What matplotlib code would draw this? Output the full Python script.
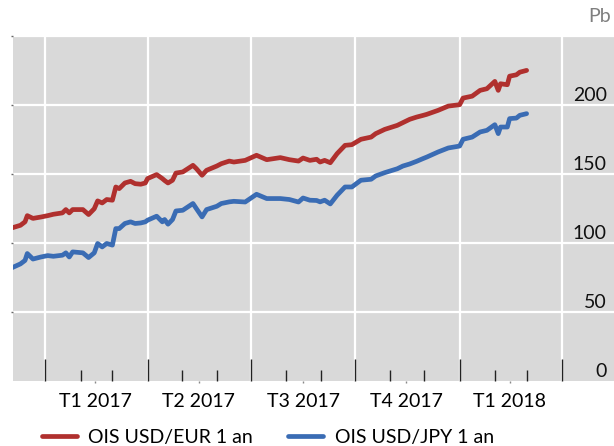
import matplotlib
matplotlib.use("Agg")
import matplotlib.pyplot as plt
import matplotlib.transforms as mtransforms
import pandas as pd

dates = [
    "2016-12-02", "2016-12-10", "2016-12-14", "2016-12-16", "2016-12-21", "2016-12-28",
    "2017-01-03", "2017-01-08", "2017-01-16", "2017-01-19", "2017-01-22", "2017-01-25",
    "2017-02-03", "2017-02-08", "2017-02-13", "2017-02-16", "2017-02-20", "2017-02-24",
    "2017-03-01", "2017-03-04", "2017-03-07", "2017-03-12", "2017-03-17", "2017-03-21",
    "2017-03-26", "2017-03-30", "2017-04-01", "2017-04-09", "2017-04-14", "2017-04-16",
    "2017-04-19", "2017-04-23", "2017-04-26", "2017-05-02", "2017-05-11", "2017-05-14",
    "2017-05-19", "2017-05-23", "2017-06-01", "2017-06-05", "2017-06-12", "2017-06-16",
    "2017-06-26", "2017-07-06", "2017-07-15", "2017-07-27", "2017-08-04", "2017-08-12",
    "2017-08-16", "2017-08-22", "2017-08-28", "2017-08-31", "2017-09-04", "2017-09-09",
    "2017-09-15", "2017-09-22", "2017-09-28", "2017-10-06", "2017-10-15", "2017-10-19",
    "2017-10-27", "2017-11-07", "2017-11-12", "2017-11-18", "2017-11-24", "2017-11-30",
    "2017-12-03", "2017-12-13", "2017-12-22", "2018-01-01", "2018-01-04", "2018-01-12",
    "2018-01-19", "2018-01-25", "2018-02-01", "2018-02-04", "2018-02-06", "2018-02-12",
    "2018-02-14", "2018-02-20", "2018-02-23", "2018-03-01",
]

ois_usd_eur = [
    111, 113, 115.5, 120, 118, 119,
    120, 121, 122, 124.4, 122, 124.4,
    124.4, 120.8, 125, 130.7, 129.2, 131.7,
    131.2, 140.8, 139.6, 143.7, 144.9, 143.2,
    142.8, 143.7, 146.9, 149.8, 146.9, 145.5,
    143.7, 145.7, 150.9, 151.7, 156.5, 154.1,
    149.3, 152.9, 156, 157.7, 159.6, 158.9,
    160.1, 163.8, 160.6, 162.1, 160.6, 159.6,
    161.8, 160.1, 160.9, 158.9, 160.1, 158.4,
    165, 171, 171.5, 175.4, 177, 179.5,
    182.6, 185.5, 187.5, 189.9, 191.5, 192.8,
    193.5, 196.4, 199.5, 200.5, 205.3, 206.7,
    210.9, 212.1, 217.4, 210.9, 215.7, 215,
    221.2, 222.2, 224.1, 225.4,
]

ois_usd_jpy = [
    82, 85, 87.5, 92.5, 88.5, 90,
    91, 90.5, 91.3, 93, 90, 93.7,
    93, 89.6, 93, 99.8, 97.3, 99.8,
    98.6, 110.6, 110.6, 114.3, 115.5, 114.3,
    114.7, 115.5, 116.7, 119.6, 115.5, 117.2,
    113.8, 117.2, 123.4, 123.9, 128.8, 125.1,
    119.1, 124.4, 126.8, 128.8, 130, 130.4,
    129.9, 135.5, 132.4, 132.4, 131.7, 129.9,
    132.8, 131.2, 131, 130, 131.2, 128.5,
    134.8, 140.8, 140.8, 145.7, 146.4, 148.8,
    151.2, 154, 156, 157.5, 159.4, 161.5,
    162.5, 166.2, 169.1, 170.5, 175.4, 177,
    180.7, 181.9, 186, 179.5, 184.3, 184.3,
    190.4, 190.8, 192.8, 194,
]

series_labels = ["OIS USD/EUR 1 an", "OIS USD/JPY 1 an"]
quarter_starts = ["2017-01-01", "2017-04-01", "2017-07-01", "2017-10-01", "2018-01-01", "2018-04-01"]
month_ticks = ["2017-02-01", "2017-03-01", "2017-05-01", "2017-06-01", "2017-08-01",
               "2017-09-01", "2017-11-01", "2017-12-01", "2018-02-01", "2018-03-01"]
quarter_mids = ["2017-02-14", "2017-05-16", "2017-08-16", "2017-11-15", "2018-02-14"]
quarter_labels = ["T1 2017", "T2 2017", "T3 2017", "T4 2017", "T1 2018"]
y_ticks = [0, 50, 100, 150, 200]
unit_label = "Pb"

plt.rcParams["font.family"] = ["Lato", "DejaVu Sans"]

fig = plt.figure(figsize=(6.14, 4.46), dpi=100)
ax = fig.add_axes([0.0204, 0.1457, 0.9796, 0.7725])
ax.set_facecolor("#D9D9D9")
for s in ax.spines.values():
    s.set_visible(False)

x = pd.to_datetime(dates)
red = "#B0302E"
blue = "#3A6CB4"
l1, = ax.plot(x, ois_usd_eur, color=red, lw=3.4, solid_capstyle="round", solid_joinstyle="round")
l2, = ax.plot(x, ois_usd_jpy, color=blue, lw=3.4, solid_capstyle="round", solid_joinstyle="round")

ax.set_xlim(pd.Timestamp("2016-12-03"), pd.Timestamp("2018-05-17"))
ax.set_ylim(0, 250)

ax.set_xticks(pd.to_datetime(quarter_starts))
ax.set_xticks(pd.to_datetime(month_ticks), minor=True)
ax.tick_params(axis="x", which="major", direction="in", length=16, width=1.0,
               color="#222222", labelbottom=False)
ax.tick_params(axis="x", which="minor", direction="in", length=8, width=1.0,
               color="#222222", labelbottom=False)
ax.set_yticks(y_ticks[1:] + [250])
ax.tick_params(axis="y", which="major", direction="out", length=1.5, width=1,
               color="#666666", labelleft=False)
ax.grid(True, which="major", color="white", lw=1.6)
ax.set_axisbelow(True)

sec = ax.secondary_xaxis("bottom")
sec.set_xticks(pd.to_datetime(quarter_mids), quarter_labels)
sec.tick_params(length=1.5, direction="out", width=1, color="#888888", pad=7, labelsize=14)
for s in sec.spines.values():
    s.set_visible(False)

trans = mtransforms.blended_transform_factory(ax.transAxes, ax.transData)
for v in y_ticks:
    ax.text(0.988, v + 3, str(v), transform=trans, ha="right", va="baseline",
            fontsize=14, color="#111111")

fig.text(0.995, 0.963, unit_label, ha="right", va="center", fontsize=14, color="#7F7F7F")

fig.legend([l1, l2], series_labels, loc="center", bbox_to_anchor=(0.436, 0.02),
           ncol=2, frameon=False, fontsize=14, handlelength=1.8, handletextpad=0.6,
           columnspacing=1.8, borderaxespad=0)

fig.savefig("out.png", dpi=100)
